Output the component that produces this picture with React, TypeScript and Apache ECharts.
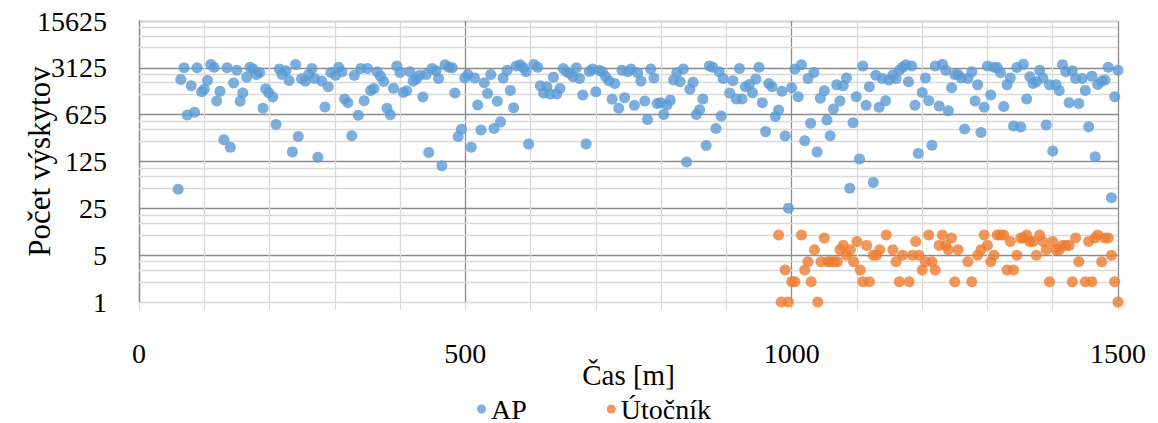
import React, { useEffect, useRef } from "react";
import * as echarts from "echarts";

const yTickLabels = ["1", "5", "25", "125", "625", "3125", "15625"];
const xTickLabels = ["0", "500", "1000", "1500"];

const apX = [
  60, 64, 69, 74, 80, 85, 89, 96, 100, 105, 110, 115, 119, 124, 130, 135, 140, 145, 150, 155,
  159, 165, 170, 175, 180, 185, 190, 194, 199, 205, 210, 215, 219, 225, 230, 235, 240, 244, 249, 255,
  260, 265, 269, 274, 280, 285, 290, 294, 301, 306, 311, 315, 320, 326, 330, 336, 340, 345, 350, 355,
  360, 365, 370, 375, 380, 385, 390, 395, 400, 405, 410, 415, 420, 425, 430, 435, 440, 444, 449, 455,
  459, 464, 469, 475, 480, 484, 489, 494, 499, 504, 509, 514, 519, 524, 529, 534, 539, 544, 549, 554,
  558, 564, 569, 574, 578, 584, 589, 593, 597, 605, 611, 615, 620, 625, 630, 635, 640, 645, 650, 655,
  660, 665, 670, 675, 680, 685, 690, 695, 700, 705, 710, 715, 720, 725, 729, 735, 740, 744, 749, 754,
  759, 764, 769, 775, 779, 784, 789, 794, 799, 804, 809, 814, 819, 824, 829, 834, 839, 844, 849, 854,
  859, 864, 869, 874, 879, 884, 889, 892, 895, 905, 910, 915, 920, 924, 929, 935, 940, 945, 950, 955,
  960, 965, 970, 975, 980, 985, 990, 995, 1000, 1005, 1010, 1015, 1020, 1025, 1029, 1034, 1039, 1044, 1050, 1054,
  1059, 1064, 1069, 1074, 1079, 1084, 1089, 1094, 1099, 1104, 1109, 1114, 1119, 1125, 1129, 1134, 1139, 1144, 1149, 1155,
  1160, 1165, 1170, 1175, 1179, 1184, 1189, 1194, 1200, 1205, 1210, 1215, 1220, 1226, 1231, 1236, 1240, 1245, 1250, 1255,
  1260, 1265, 1270, 1276, 1281, 1285, 1290, 1295, 1300, 1305, 1310, 1315, 1320, 1325, 1330, 1335, 1340, 1345, 1351, 1355,
  1360, 1365, 1370, 1375, 1380, 1385, 1390, 1395, 1400, 1405, 1410, 1415, 1420, 1425, 1430, 1435, 1440, 1445, 1450, 1455,
  1460, 1465, 1469, 1475, 1480, 1485, 1490, 1495, 1500,
];
const apY = [
  48, 2100, 3125, 620, 1690, 680, 3125, 1370, 1500, 2025, 3500, 3200, 1000, 1400, 263, 3125, 204, 1850, 2880, 990,
  1315, 2270, 3200, 3000, 2490, 2660, 778, 1520, 1330, 1145, 445, 3000, 2490, 2820, 2025, 174, 3500, 295, 2140, 1980,
  2490, 3050, 2160, 145, 1980, 813, 1630, 2660, 2430, 3200, 2725, 1070, 943, 304, 2430, 612, 3050, 1010, 3050, 1440,
  1540, 2725, 2350, 1960, 778, 625, 1555, 3340, 2660, 1340, 1420, 2725, 1980, 2120, 2430, 1145, 2490, 170, 3050, 2820,
  2160, 108, 3470, 3200, 3125, 1315, 295, 378, 2210, 2490, 204, 2210, 872, 369, 1870, 1297, 2490, 390, 990, 488,
  2210, 2880, 1440, 795, 3340, 3470, 3125, 2725, 229, 3500, 3200, 1690, 1315, 1630, 1270, 2270, 1270, 1540, 3050, 2725,
  2600, 2300, 3125, 2160, 1230, 229, 2760, 3000, 1370, 2880, 2725, 2300, 2000, 1060, 1820, 778, 2880, 1120, 2725, 3000,
  862, 2630, 1980, 1000, 531, 3000, 2210, 918, 945, 630, 872, 1030, 2050, 2630, 1930, 3000, 123, 1500, 1900, 630,
  740, 1070, 216, 3340, 3200, 390, 2725, 595, 2160, 1315, 2000, 1070, 3050, 1070, 1630, 1760, 1330, 2120, 3200, 945,
  349, 1820, 1630, 585, 735, 1400, 300, 25, 1580, 3000, 1160, 3470, 256, 2160, 466, 2660, 174, 1100, 1420, 522,
  303, 760, 1740, 1000, 1690, 2210, 50, 475, 1160, 136, 3340, 862, 1630, 61, 2430, 804, 2160, 1010, 2050, 2450,
  2160, 2880, 3200, 3470, 1930, 3340, 862, 165, 1340, 2210, 1010, 219, 3340, 840, 3520, 2880, 716, 1580, 2490, 2490,
  2210, 381, 2160, 2725, 1000, 1740, 338, 804, 3340, 1230, 3200, 3150, 2630, 830, 1740, 2210, 425, 3150, 408, 3520,
  1070, 2300, 1820, 1930, 2880, 2210, 440, 1740, 180, 1740, 1440, 3470, 2725, 945, 2820, 2160, 915, 2160, 1440, 413,
  2350, 147, 1760, 1980, 2050, 3200, 36, 1160, 2880,
];

const atkX = [
  980, 984, 990, 995, 1000, 1005, 1015, 1020, 1025, 1030, 1035, 1040, 1045, 1050, 1055, 1060, 1065, 1070, 1074, 1079,
  1084, 1090, 1095, 1100, 1105, 1109, 1115, 1119, 1125, 1130, 1135, 1145, 1155, 1160, 1165, 1170, 1180, 1185, 1190, 1195,
  1200, 1205, 1210, 1215, 1220, 1226, 1231, 1236, 1240, 1245, 1250, 1255, 1270, 1276, 1285, 1290, 1295, 1300, 1305, 1310,
  1315, 1320, 1325, 1330, 1335, 1340, 1345, 1351, 1355, 1360, 1365, 1370, 1375, 1380, 1385, 1390, 1395, 1400, 1405, 1410,
  1415, 1420, 1425, 1430, 1435, 1440, 1450, 1455, 1460, 1465, 1469, 1475, 1480, 1485, 1490, 1495, 1500,
];
const atkY = [
  10, 1, 3, 1, 2, 2, 10, 3, 4, 2, 6, 1, 4, 9, 4, 4, 4, 4, 6, 7,
  5, 6, 4, 8, 3, 2, 7, 2, 5, 5, 6, 10, 6, 4, 2, 5, 2, 5, 8, 5,
  3, 4, 10, 4, 3, 7, 10, 7, 6, 9, 2, 6, 4, 2, 5, 6, 10, 7, 4, 5,
  10, 10, 10, 3, 8, 3, 5, 9, 9, 10, 8, 8, 5, 10, 8, 6, 2, 8, 6, 6,
  7, 7, 7, 2, 9, 4, 2, 8, 2, 9, 10, 4, 9, 9, 5, 2, 1,
];

const FONT = "Liberation Serif, Times New Roman, DejaVu Serif, serif";
const MAJOR = "#8c8c8c";
const MINOR = "#d9d9d9";

export default function App() {
  const ref = useRef<HTMLDivElement>(null);
  useEffect(() => {
    if (!ref.current) return;
    const chart = echarts.init(ref.current, undefined, { renderer: "svg" });
    const majors = yTickLabels.map((s) => Number(s));
    const minorVals: number[] = [];
    for (let i = 0; i < majors.length - 1; i++) {
      for (const k of [2, 3, 4]) minorVals.push(majors[i] * k);
    }
    const xSplitColors = [MAJOR, MINOR, MINOR, MINOR, MINOR];
    chart.setOption({
      animation: false,
      textStyle: { fontFamily: FONT },
      grid: {
        left: 139,
        right: 40,
        top: 21,
        bottom: 121,
        containLabel: false,
        outerBoundsMode: "none",
      },
      legend: {
        data: ["AP", "Útočník"],
        left: 472,
        top: 389,
        icon: "circle",
        itemWidth: 9,
        itemHeight: 9,
        itemGap: 80,
        textStyle: { fontFamily: FONT, fontSize: 28, color: "#000", lineHeight: 30 },
      },
      xAxis: {
        type: "value",
        min: 0,
        max: 1500,
        interval: 100,
        name: "Čas [m]",
        nameLocation: "middle",
        nameGap: 58,
        nameMoveOverlap: false,
        nameTextStyle: { fontFamily: FONT, fontSize: 29, color: "#000" },
        axisLine: { show: true, lineStyle: { color: MINOR } },
        axisTick: { show: true, length: 8, lineStyle: { color: MINOR } },
        axisLabel: {
          margin: 37,
          fontFamily: FONT,
          fontSize: 28,
          color: "#000",
          formatter: (v: number) => (xTickLabels.includes(String(v)) ? String(v) : ""),
        },
        splitLine: { show: true, lineStyle: { color: xSplitColors, width: 1.3 } },
      },
      yAxis: {
        type: "log",
        logBase: 5,
        min: 1,
        max: 15625,
        name: "Počet výskytov",
        nameLocation: "middle",
        nameGap: 84,
        nameMoveOverlap: false,
        nameRotate: 90,
        nameTextStyle: { fontFamily: FONT, fontSize: 31, color: "#000" },
        axisLine: { show: true, lineStyle: { color: MAJOR, width: 1.3 } },
        axisTick: { show: false },
        axisLabel: {
          margin: 32,
          fontFamily: FONT,
          fontSize: 28,
          color: "#000",
          formatter: (v: number) => String(Math.round(v)),
        },
        splitLine: {
          show: true,
          lineStyle: { color: [MINOR, MAJOR, MAJOR, MAJOR, MAJOR, MAJOR, MAJOR], width: 1.3 },
        },
      },
      series: [
        {
          name: "minor",
          type: "scatter",
          data: [],
          z: 1,
          silent: true,
          markLine: {
            silent: true,
            z: 1,
            symbol: ["none", "none"],
            label: { show: false },
            lineStyle: { color: MINOR, width: 1.3, type: "solid" },
            emphasis: { disabled: true },
            data: minorVals.map((v) => ({ yAxis: v })),
          },
        },
        {
          name: "AP",
          type: "scatter",
          symbolSize: 11,
          itemStyle: { color: "#5B9BD5" },
          z: 3,
          data: apX.map((x, i) => [x, apY[i]]),
        },
        {
          name: "Útočník",
          type: "scatter",
          symbolSize: 11,
          itemStyle: { color: "#ED7D31" },
          z: 3,
          data: atkX.map((x, i) => [x, atkY[i]]),
        },
      ],
    });
    return () => chart.dispose();
  }, []);
  return (
    <div
      ref={ref}
      style={{ position: "fixed", left: 0, top: 0, width: 1158, height: 423, background: "#fff" }}
    />
  );
}
